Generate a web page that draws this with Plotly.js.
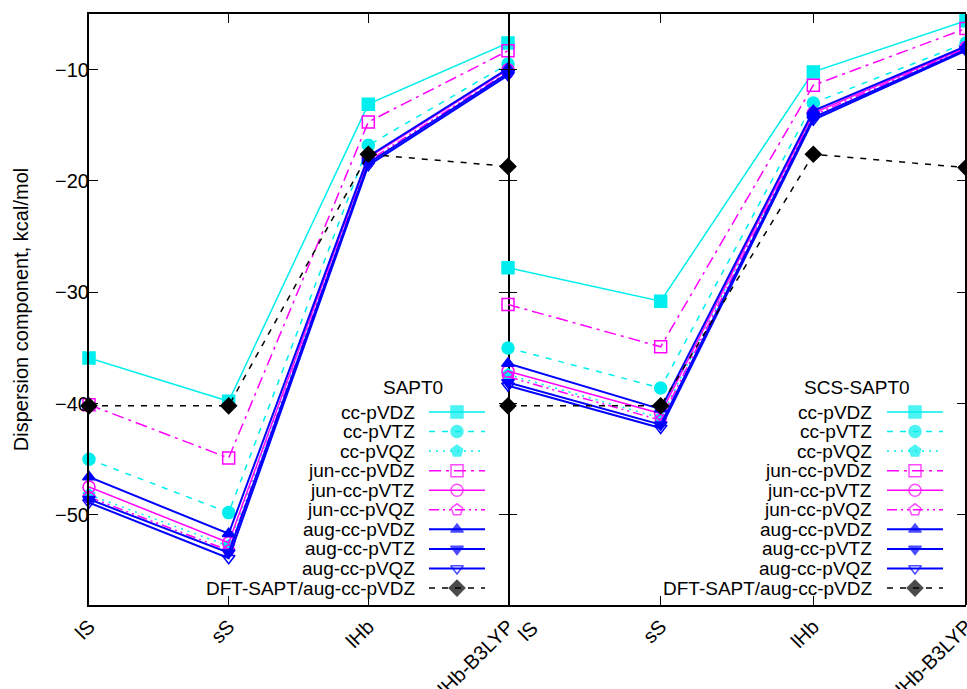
<!DOCTYPE html>
<html>
<head>
<meta charset="utf-8">
<script src="https://cdn.plot.ly/plotly-3.0.1.min.js"></script>
<style>html,body{margin:0;padding:0;background:#fff;}#chart{width:967px;height:689px;}</style>
</head>
<body>
<div id="chart"></div>
<script>
// ---- data ----
const categories = ["lS", "sS", "lHb", "lHb-B3LYP"];
const seriesNames = ["cc-pVDZ", "cc-pVTZ", "cc-pVQZ", "jun-cc-pVDZ", "jun-cc-pVTZ", "jun-cc-pVQZ", "aug-cc-pVDZ", "aug-cc-pVTZ", "aug-cc-pVQZ", "DFT-SAPT/aug-cc-pVDZ"];

// SAPT0 (left panel)
const sapt0_ccVDZ  = [-35.9, -39.8, -13.1, -7.6];
const sapt0_ccVTZ  = [-45.0, -49.8, -16.8, -9.5];
const sapt0_ccVQZ  = [-48.2, -52.8, -17.9, -10.0];
const sapt0_junVDZ = [-40.1, -44.9, -14.7, -8.3];
const sapt0_junVTZ = [-47.5, -52.5, -17.9, -10.0];
const sapt0_junVQZ = [-48.4, -53.2, -18.2, -10.2];
const sapt0_augVDZ = [-46.6, -51.7, -17.8, -9.9];
const sapt0_augVTZ = [-48.6, -53.4, -18.4, -10.3];
const sapt0_augVQZ = [-48.9, -53.9, -18.6, -10.5];
const sapt0_dft    = [-40.2, -40.2, -17.6, -18.7];

// SCS-SAPT0 (right panel)
const scs_ccVDZ  = [-27.8, -30.8, -10.2, -5.6];
const scs_ccVTZ  = [-35.0, -38.6, -13.0, -7.6];
const scs_ccVQZ  = [-37.4, -41.3, -13.9, -8.0];
const scs_junVDZ = [-31.1, -34.9, -11.4, -6.3];
const scs_junVTZ = [-37.1, -40.9, -13.9, -8.0];
const scs_junVQZ = [-37.6, -41.5, -14.1, -8.1];
const scs_augVDZ = [-36.4, -40.5, -13.7, -7.9];
const scs_augVTZ = [-38.1, -41.9, -14.3, -8.2];
const scs_augVQZ = [-38.4, -42.2, -14.5, -8.3];
const scs_dft    = [-40.2, -40.2, -17.6, -18.8];

const yTickVals = [-50, -40, -30, -20, -10];
const yAxisTitle = "Dispersion component, kcal/mol";
const panelTitles = ["SAPT0", "SCS-SAPT0"];

// ---- styles ----
const CY = "#00eeee", MG = "#ff00ff", BL = "#0000ff", BK = "#000000";
const styles = [
  {c: CY, dash: "solid",            sym: "square",             size: 12, w: 1.5},
  {c: CY, dash: "6px,7px",          sym: "circle",             size: 12, w: 1.5},
  {c: CY, dash: "2px,5px",          sym: "pentagon",           size: 12, w: 1.5},
  {c: MG, dash: "12px,5px,3px,5px", sym: "square-open",        size: 12, w: 1.5},
  {c: MG, dash: "solid",            sym: "circle-open",        size: 12, w: 1.5},
  {c: MG, dash: "10px,4px,2px,4px,2px,4px", sym: "pentagon-open", size: 12, w: 1.5},
  {c: BL, dash: "solid",            sym: "triangle-up",        size: 11, w: 2},
  {c: BL, dash: "solid",            sym: "triangle-down",      size: 11, w: 2},
  {c: BL, dash: "solid",            sym: "triangle-down-open", size: 11, w: 2},
  {c: BK, dash: "6px,7px",          sym: "diamond",            size: 12, w: 1.5}
];

const leftData  = [sapt0_ccVDZ, sapt0_ccVTZ, sapt0_ccVQZ, sapt0_junVDZ, sapt0_junVTZ, sapt0_junVQZ, sapt0_augVDZ, sapt0_augVTZ, sapt0_augVQZ, sapt0_dft];
const rightData = [scs_ccVDZ, scs_ccVTZ, scs_ccVQZ, scs_junVDZ, scs_junVTZ, scs_junVQZ, scs_augVDZ, scs_augVTZ, scs_augVQZ, scs_dft];

const traces = [];
function addPanel(dataArr, xa, ya) {
  dataArr.forEach((vals, i) => {
    const s = styles[i];
    traces.push({
      type: "scatter", mode: "lines+markers", x: categories, y: vals,
      xaxis: xa, yaxis: ya, name: seriesNames[i], showlegend: false, cliponaxis: false,
      line: {color: s.c, width: s.w, dash: s.dash},
      marker: {symbol: s.sym, size: s.size, color: s.c, line: {color: s.c, width: 1.5}}
    });
  });
}
addPanel(leftData, "x", "y");
addPanel(rightData, "x2", "y2");

// ---- manual gnuplot-style legends (layout helpers on a hidden pixel axis) ----
const annotations = [];
const FONT = "Liberation Sans, Arial, Helvetica, sans-serif";
const FS = 20, LFS = 19;
const legendBoxes = [
  {textRight: 417, lineL: 429, lineR: 485, titleX: 413, title: panelTitles[0]},
  {textRight: 874, lineL: 887, lineR: 943, titleX: 857, title: panelTitles[1]}
];
const rowY0 = 412, rowDy = 19.56, titleY = 387;
legendBoxes.forEach(b => {
  annotations.push({xref: "x3", yref: "y3", x: b.titleX, y: titleY, text: b.title, showarrow: false,
    xanchor: "center", yanchor: "middle", font: {family: FONT, size: LFS, color: "#000"}});
  seriesNames.forEach((nm, i) => {
    const s = styles[i];
    const yy = rowY0 + i * rowDy;
    annotations.push({xref: "x3", yref: "y3", x: b.textRight, y: yy, text: nm, showarrow: false,
      xanchor: "right", yanchor: "middle", font: {family: FONT, size: LFS, color: "#000"}});
    const mid = (b.lineL + b.lineR) / 2;
    traces.push({
      type: "scatter", mode: "lines+markers", x: [b.lineL, mid, b.lineR], y: [yy, yy, yy],
      xaxis: "x3", yaxis: "y3", showlegend: false, hoverinfo: "skip", cliponaxis: false,
      line: {color: s.c, width: s.w, dash: s.dash},
      marker: {symbol: s.sym, size: [0, s.size, 0], color: s.c, line: {color: s.c, width: 1.5}}
    });
  });
});

// right panel's first category label sits a bit to the right of its tick (as in the original)
annotations.push({xref: "x2", yref: "paper", x: 0, y: 0, text: categories[0], textangle: -45, showarrow: false,
  xanchor: "center", yanchor: "middle", xshift: 20, yshift: -26, font: {family: FONT, size: FS, color: "#000"}});

const split = 419 / 877;
const common = {
  showline: true, linecolor: "#000", linewidth: 2, mirror: "ticks",
  ticks: "inside", ticklen: 9, tickwidth: 1, tickcolor: "#000",
  showgrid: false, zeroline: false,
  tickfont: {family: FONT, size: FS, color: "#000"}
};
const layout = {
  width: 967, height: 689,
  margin: {l: 89, r: 1, t: 14, b: 84},
  paper_bgcolor: "#fff", plot_bgcolor: "rgba(0,0,0,0)",
  showlegend: false,
  xaxis: Object.assign({}, common, {domain: [0, split], anchor: "y", type: "category", range: [0, 3], tickangle: -45,
    tickmode: "array", tickvals: [0, 1, 2, 3], ticktext: categories}),
  xaxis2: Object.assign({}, common, {domain: [split, 1], anchor: "y2", type: "category", range: [0, 3], tickangle: -45,
    tickmode: "array", tickvals: [0, 1, 2, 3], ticktext: ["", categories[1], categories[2], categories[3]]}),
  yaxis: Object.assign({}, common, {domain: [0, 1], anchor: "x", range: [-58.1, -5], tickvals: yTickVals,
    ticklabelstandoff: -6,
    title: {text: yAxisTitle, font: {family: FONT, size: FS, color: "#000"}, standoff: 21}}),
  yaxis2: Object.assign({}, common, {domain: [0, 1], anchor: "x2", range: [-58.1, -5], tickvals: yTickVals,
    showticklabels: false, showline: false}),
  xaxis3: {domain: [0, 1], range: [89, 966], anchor: "y3", visible: false, fixedrange: true},
  yaxis3: {domain: [0, 1], range: [605, 14], anchor: "x3", visible: false, fixedrange: true},
  shapes: [{type: "line", xref: "paper", yref: "paper", x0: 1, x1: 1, y0: 0, y1: 1,
    line: {color: "#000", width: 2}}],
  annotations: annotations
};
Plotly.newPlot("chart", traces, layout, {displayModeBar: false, staticPlot: true});
</script>
</body>
</html>
